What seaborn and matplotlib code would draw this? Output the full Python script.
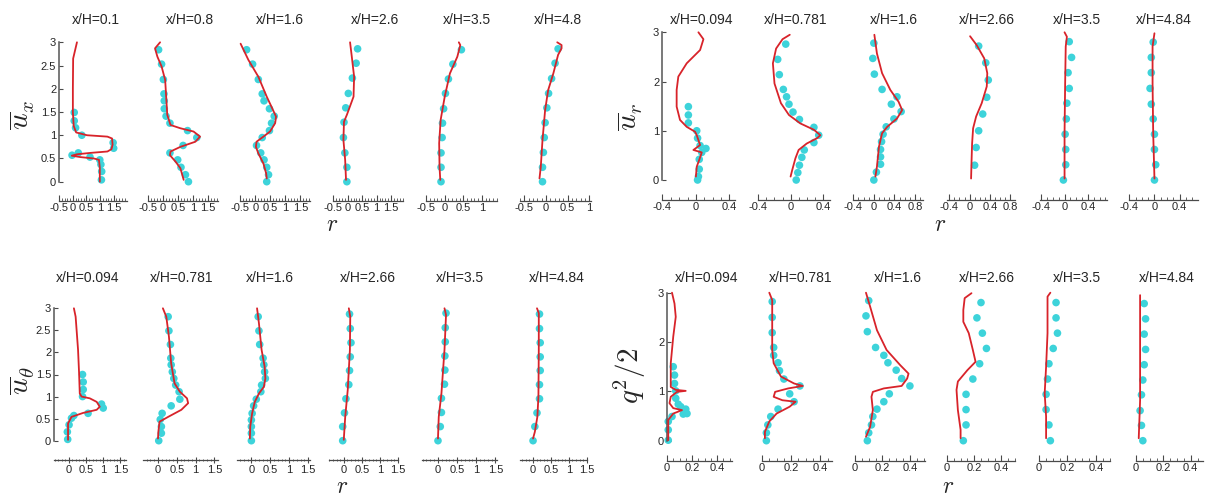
import matplotlib
matplotlib.use("Agg")
import matplotlib.pyplot as plt
import seaborn as sns
from matplotlib.ticker import MultipleLocator, FuncFormatter

# ---------------------------------------------------------------- data
UX_STATIONS = ["0.1", "0.8", "1.6", "2.6", "3.5", "4.8"]
UR_STATIONS = ["0.094", "0.781", "1.6", "2.66", "3.5", "4.84"]
UT_STATIONS = ["0.094", "0.781", "1.6", "2.66", "3.5", "4.84"]
Q_STATIONS = ["0.094", "0.781", "1.6", "2.66", "3.5", "4.84"]

# mean axial velocity: simulation line (y, value) and experiment points
ux_line_y = [
    [3.0, 2.85, 2.65, 2.0, 1.5, 1.2, 1.06, 1.0, 0.97, 0.93, 0.8, 0.7, 0.65, 0.62, 0.59, 0.56, 0.53, 0.5, 0.47, 0.3, 0.1, 0.0],
    [3.0, 2.87, 2.69, 2.48, 2.19, 1.76, 1.44, 1.22, 1.15, 1.08, 0.97, 0.86, 0.75, 0.65, 0.57, 0.43, 0.29, 0.04],
    [2.97, 2.62, 2.26, 1.83, 1.61, 1.4, 1.26, 1.08, 0.97, 0.86, 0.75, 0.61, 0.39, 0.18, 0.07],
    [3.0, 2.69, 2.26, 1.83, 1.44, 1.29, 0.9, 0.47, 0.04],
    [3.0, 2.94, 2.69, 2.33, 1.83, 1.33, 0.83, 0.32, 0.04],
    [3.0, 2.94, 2.87, 2.73, 2.33, 1.97, 1.54, 0.9, 0.32, 0.07],
]
ux_line_v = [
    [0.15, 0.09, 0.01, 0.0, 0.0, 0.03, 0.12, 0.52, 1.27, 1.44, 1.46, 1.42, 1.27, 0.65, 0.15, -0.04, 0.27, 0.77, 0.96, 0.99, 0.99, 0.99],
    [-0.10, -0.27, -0.19, -0.05, 0.07, 0.11, 0.14, 0.25, 0.58, 1.02, 1.24, 1.08, 0.58, 0.25, 0.23, 0.42, 0.58, 0.69],
    [-0.49, -0.23, 0.10, 0.38, 0.54, 0.69, 0.66, 0.49, 0.27, 0.04, 0.02, 0.10, 0.27, 0.36, 0.38],
    [0.08, 0.14, 0.22, 0.20, -0.03, -0.13, -0.15, -0.09, -0.06],
    [0.38, 0.42, 0.34, 0.14, 0.0, -0.11, -0.15, -0.14, -0.12],
    [0.26, 0.36, 0.36, 0.28, 0.17, 0.05, -0.02, -0.08, -0.12, -0.15],
]
ux_pts_y = [
    [1.49, 1.31, 1.16, 1.00, 0.84, 0.72, 0.62, 0.57, 0.53, 0.47, 0.37, 0.22, 0.04],
    [2.84, 2.53, 2.20, 1.89, 1.74, 1.57, 1.41, 1.26, 1.10, 0.95, 0.78, 0.62, 0.47, 0.31, 0.15, 0.00],
    [2.84, 2.53, 2.20, 1.89, 1.74, 1.57, 1.41, 1.26, 1.10, 0.95, 0.78, 0.62, 0.47, 0.31, 0.15, 0.00],
    [2.86, 2.55, 2.23, 1.90, 1.59, 1.28, 0.95, 0.62, 0.31, 0.00],
    [2.84, 2.53, 2.21, 1.90, 1.57, 1.26, 0.95, 0.62, 0.31, 0.00],
    [2.86, 2.55, 2.22, 1.90, 1.59, 1.27, 0.95, 0.63, 0.31, 0.00],
]
ux_pts_v = [
    [0.05, 0.05, 0.10, 0.33, 1.48, 1.50, 0.20, -0.03, 0.63, 0.99, 1.03, 1.06, 1.05],
    [-0.15, -0.05, 0.01, 0.03, 0.04, 0.04, 0.10, 0.23, 0.82, 1.13, 0.67, 0.23, 0.49, 0.60, 0.75, 0.85],
    [-0.29, -0.09, 0.10, 0.23, 0.29, 0.47, 0.63, 0.54, 0.47, 0.23, 0.04, 0.18, 0.29, 0.38, 0.44, 0.38],
    [0.34, 0.29, 0.16, 0.02, -0.07, -0.13, -0.15, -0.10, -0.03, -0.03],
    [0.45, 0.22, 0.10, 0.02, -0.03, -0.06, -0.07, -0.10, -0.10, -0.10],
    [0.28, 0.21, 0.13, 0.06, 0.02, -0.02, -0.04, -0.06, -0.08, -0.08],
]

# mean radial velocity
ur_line_y = [
    [3.0, 2.86, 2.64, 2.37, 2.10, 1.83, 1.49, 1.22, 1.08, 0.98, 0.91, 0.71, 0.61, 0.56, 0.41, 0.27, 0.07],
    [2.95, 2.86, 2.67, 2.37, 1.96, 1.56, 1.32, 1.15, 1.02, 0.91, 0.85, 0.74, 0.61, 0.44, 0.20, 0.07],
    [2.95, 2.57, 2.17, 1.83, 1.59, 1.42, 1.25, 1.08, 0.95, 0.68, 0.27, 0.07],
    [2.92, 2.74, 2.47, 2.17, 1.90, 1.56, 1.29, 1.05, 0.74, 0.41, 0.03],
    [3.0, 2.91, 2.71, 1.96, 0.95, 0.03],
    [2.98, 2.71, 1.96, 0.95, 0.03],
]
ur_line_v = [
    [0.03, 0.09, 0.05, -0.11, -0.21, -0.23, -0.23, -0.19, -0.11, -0.01, 0.01, 0.05, -0.03, 0.07, 0.04, 0.01, 0.0],
    [-0.01, -0.10, -0.18, -0.22, -0.20, -0.12, -0.02, 0.12, 0.29, 0.37, 0.33, 0.20, 0.10, 0.06, 0.02, 0.0],
    [0.01, 0.06, 0.16, 0.32, 0.48, 0.55, 0.45, 0.26, 0.16, 0.10, 0.06, 0.03],
    [0.01, 0.14, 0.29, 0.35, 0.34, 0.24, 0.13, 0.07, 0.05, 0.04, 0.03],
    [0.0, 0.04, 0.02, 0.01, 0.0, 0.0],
    [0.0, -0.03, -0.03, -0.02, 0.0],
]
ur_pts_y = [
    [1.49, 1.32, 1.16, 1.00, 0.85, 0.70, 0.64, 0.56, 0.42, 0.22, 0.07, 0.0],
    [2.76, 2.45, 2.14, 1.84, 1.69, 1.54, 1.38, 1.23, 1.07, 0.91, 0.76, 0.61, 0.46, 0.30, 0.15, 0.0],
    [2.78, 2.47, 2.15, 1.84, 1.69, 1.54, 1.39, 1.24, 1.08, 0.93, 0.78, 0.62, 0.47, 0.32, 0.16, 0.0],
    [2.72, 2.38, 2.03, 1.68, 1.34, 1.00, 0.66, 0.30],
    [2.81, 2.49, 2.18, 1.86, 1.56, 1.24, 0.93, 0.62, 0.31, 0.0],
    [2.80, 2.49, 2.18, 1.86, 1.54, 1.24, 0.93, 0.62, 0.31, 0.0],
]
ur_pts_v = [
    [-0.09, -0.09, -0.09, 0.01, 0.02, 0.05, 0.12, 0.07, 0.04, 0.04, 0.03, 0.02],
    [-0.06, -0.16, -0.14, -0.09, -0.05, -0.02, 0.03, 0.11, 0.29, 0.35, 0.29, 0.17, 0.14, 0.11, 0.09, 0.07],
    [0.0, -0.02, 0.01, 0.16, 0.45, 0.34, 0.53, 0.39, 0.24, 0.18, 0.15, 0.13, 0.13, 0.13, 0.05, 0.0],
    [0.18, 0.32, 0.37, 0.34, 0.26, 0.18, 0.13, 0.10],
    [0.08, 0.12, 0.06, 0.08, 0.04, 0.03, 0.01, 0.02, 0.02, -0.02],
    [-0.02, -0.05, -0.05, -0.07, -0.05, -0.02, 0.0, 0.0, 0.02, 0.0],
]

# mean swirl velocity
ut_line_y = [
    [3.0, 2.81, 2.06, 1.53, 1.07, 1.00, 0.96, 0.88, 0.77, 0.70, 0.63, 0.54, 0.39, 0.02],
    [3.0, 2.81, 2.36, 1.75, 1.30, 1.11, 0.96, 0.85, 0.70, 0.54, 0.43, 0.20, 0.05],
    [3.0, 2.66, 2.06, 1.68, 1.41, 1.22, 1.07, 0.88, 0.62, 0.32, 0.05],
    [3.0, 2.81, 2.06, 1.15, 0.54, 0.02],
    [3.0, 2.85, 2.06, 1.07, 0.54, 0.05],
    [3.0, 2.89, 2.06, 1.00, 0.54, 0.20, 0.05],
]
ut_line_v = [
    [0.15, 0.20, 0.27, 0.30, 0.32, 0.37, 0.61, 0.81, 0.90, 0.81, 0.42, 0.08, -0.02, -0.02],
    [0.13, 0.22, 0.29, 0.35, 0.44, 0.58, 0.77, 0.80, 0.62, 0.27, 0.04, 0.01, 0.0],
    [0.15, 0.20, 0.27, 0.35, 0.37, 0.33, 0.20, 0.09, 0.02, -0.03, -0.04],
    [0.14, 0.18, 0.17, 0.11, 0.04, 0.0],
    [0.17, 0.21, 0.17, 0.09, 0.02, 0.0],
    [0.11, 0.16, 0.16, 0.15, 0.12, 0.05, 0.0],
]
ut_pts_y = [
    [1.50, 1.33, 1.16, 1.00, 0.83, 0.74, 0.62, 0.57, 0.51, 0.36, 0.20, 0.03],
    [2.81, 2.49, 2.18, 1.87, 1.72, 1.56, 1.41, 1.26, 1.11, 0.94, 0.79, 0.62, 0.48, 0.32, 0.17, 0.0],
    [2.81, 2.49, 2.18, 1.87, 1.72, 1.56, 1.41, 1.26, 1.11, 0.94, 0.79, 0.62, 0.47, 0.32, 0.17, 0.0],
    [2.87, 2.54, 2.22, 1.90, 1.59, 1.27, 0.95, 0.63, 0.32, 0.0],
    [2.89, 2.56, 2.24, 1.92, 1.60, 1.28, 0.96, 0.64, 0.32, 0.0],
    [2.87, 2.54, 2.22, 1.90, 1.59, 1.27, 0.95, 0.63, 0.32, 0.0],
]
ut_pts_v = [
    [0.40, 0.42, 0.42, 0.40, 0.95, 1.00, 0.56, 0.15, 0.08, 0.01, -0.04, -0.03],
    [0.27, 0.29, 0.33, 0.34, 0.35, 0.38, 0.42, 0.47, 0.56, 0.58, 0.35, 0.11, 0.06, 0.09, 0.09, 0.02],
    [0.18, 0.20, 0.22, 0.31, 0.33, 0.35, 0.37, 0.27, 0.25, 0.13, 0.06, 0.02, 0.0, 0.0, 0.0, 0.0],
    [0.16, 0.18, 0.20, 0.18, 0.16, 0.14, 0.06, 0.02, -0.03, -0.03],
    [0.21, 0.19, 0.19, 0.18, 0.18, 0.17, 0.09, 0.09, 0.06, 0.0],
    [0.18, 0.18, 0.20, 0.20, 0.20, 0.18, 0.18, 0.11, 0.05, 0.0],
]

# turbulent kinetic energy
q_line_y = [
    [3.0, 2.78, 2.51, 2.11, 1.57, 1.09, 1.03, 1.01, 0.99, 0.89, 0.76, 0.66, 0.62, 0.55, 0.42, 0.22, 0.01],
    [3.0, 2.85, 1.84, 1.57, 1.30, 1.16, 1.11, 1.06, 0.99, 0.89, 0.82, 0.79, 0.69, 0.55, 0.39, 0.18, 0.05],
    [3.0, 2.72, 2.24, 1.84, 1.53, 1.36, 1.26, 1.11, 1.06, 0.99, 0.89, 0.62, 0.28, 0.08],
    [2.99, 2.89, 2.65, 2.41, 2.18, 1.84, 1.60, 1.43, 1.20, 1.03, 0.62, 0.22, 0.05],
    [3.0, 2.92, 2.18, 1.50, 0.96, 0.49, 0.05],
    [2.95, 1.84, 0.82, 0.05],
]
q_line_v = [
    [0.04, 0.06, 0.07, 0.05, 0.03, 0.03, 0.07, 0.15, 0.08, 0.03, 0.02, 0.05, 0.12, 0.05, 0.01, 0.01, 0.01],
    [0.05, 0.07, 0.07, 0.08, 0.13, 0.22, 0.28, 0.18, 0.09, 0.08, 0.14, 0.23, 0.19, 0.10, 0.05, 0.02, 0.02],
    [0.08, 0.11, 0.16, 0.23, 0.33, 0.39, 0.38, 0.34, 0.21, 0.13, 0.12, 0.13, 0.11, 0.08],
    [0.18, 0.13, 0.12, 0.12, 0.16, 0.19, 0.21, 0.15, 0.08, 0.07, 0.08, 0.10, 0.10],
    [0.08, 0.06, 0.06, 0.05, 0.04, 0.05, 0.05],
    [0.03, 0.03, 0.03, 0.02],
]
q_pts_y = [
    [1.50, 1.33, 1.16, 1.01, 0.86, 0.74, 0.69, 0.64, 0.55, 0.54, 0.49, 0.39, 0.22, 0.01],
    [2.82, 2.50, 2.19, 1.89, 1.73, 1.58, 1.42, 1.25, 1.11, 0.95, 0.79, 0.64, 0.49, 0.32, 0.16, 0.0],
    [2.84, 2.53, 2.21, 1.89, 1.73, 1.58, 1.43, 1.26, 1.11, 0.95, 0.79, 0.64, 0.49, 0.32, 0.16, 0.0],
    [2.80, 2.49, 2.18, 1.87, 1.56, 1.25, 0.94, 0.63, 0.32, 0.0],
    [2.80, 2.49, 2.18, 1.87, 1.56, 1.25, 0.94, 0.63, 0.32, 0.0],
    [2.78, 2.47, 2.16, 1.85, 1.54, 1.23, 0.93, 0.61, 0.31, 0.0],
]
q_pts_v = [
    [0.05, 0.06, 0.06, 0.07, 0.07, 0.09, 0.11, 0.15, 0.16, 0.13, 0.04, 0.01, 0.01, 0.01],
    [0.07, 0.07, 0.07, 0.08, 0.08, 0.11, 0.12, 0.15, 0.26, 0.19, 0.22, 0.11, 0.06, 0.04, 0.03, 0.03],
    [0.10, 0.08, 0.09, 0.15, 0.21, 0.24, 0.30, 0.34, 0.40, 0.25, 0.21, 0.16, 0.13, 0.12, 0.10, 0.09],
    [0.25, 0.22, 0.26, 0.29, 0.24, 0.19, 0.14, 0.14, 0.14, 0.12],
    [0.12, 0.12, 0.13, 0.10, 0.07, 0.06, 0.05, 0.05, 0.07, 0.08],
    [0.06, 0.07, 0.06, 0.07, 0.06, 0.05, 0.04, 0.03, 0.04, 0.05],
]

Y_LABELS = [r"$\overline{u}_x$", r"$\overline{u}_r$", r"$\overline{u}_\theta$", r"$q^2/2$"]
X_LABEL = r"$r$"

# ---------------------------------------------------------------- style / layout
sns.set_style("white")
plt.rcParams["font.family"] = ["Liberation Sans", "DejaVu Sans"]
plt.rcParams["mathtext.fontset"] = "cm"

RED = "#d8232a"
CYAN = "#3dd3da"
AXC = "#4a4a4a"
W, H = 1210, 499

fig = plt.figure(figsize=(12.1, 4.99), dpi=100)
fig.patch.set_facecolor("white")

groups = [
    dict(st=UX_STATIONS, ly=ux_line_y, lv=ux_line_v, py=ux_pts_y, pv=ux_pts_v,
         top=42.3, bot=181.7, xaxis=201,
         spans=[(59, 127), (148, 218), (240, 310), (333, 403), (426, 497), (520, 591)],
         xlims=[(-0.51, 1.99), (-0.505, 1.84), (-0.51, 1.82), (-0.51, 1.91), (-0.505, 1.41), (-0.6, 1.04)],
         major=0.5, minor=0.1, ystep=0.5, tdir="in",
         titles=[(96, 20), (190, 20), (280, 20), (375, 20), (467, 20), (558, 20)],
         ylab=(22, 115), xlab=(332, 225)),
    dict(st=UR_STATIONS, ly=ur_line_y, lv=ur_line_v, py=ur_pts_y, pv=ur_pts_v,
         top=32.3, bot=180.0, xaxis=200,
         spans=[(662, 735), (758, 830), (853, 923), (947, 1015), (1040, 1107), (1129, 1198)],
         xlims=[(-0.405, 0.467), (-0.405, 0.49), (-0.405, 0.955), (-0.446, 0.898), (-0.42, 0.726), (-0.405, 0.693)],
         major=0.4, minor=0.1, ystep=1.0, tdir="in",
         titles=[(702, 20), (796, 20), (894, 20), (987, 20), (1077, 20), (1164, 20)],
         ylab=(630, 117), xlab=(940, 225)),
    dict(st=UT_STATIONS, ly=ut_line_y, lv=ut_line_v, py=ut_pts_y, pv=ut_pts_v,
         top=308.3, bot=440.7, xaxis=460,
         spans=[(54, 126), (143, 218), (237, 310), (329, 398), (422, 497), (520, 587)],
         xlims=[(-0.427, 1.66), (-0.398, 1.593), (-0.38, 1.55), (-0.41, 1.505), (-0.417, 1.54), (-0.364, 1.505)],
         major=0.5, minor=0.1, ystep=0.5, tdir="inout",
         titles=[(88, 278), (182, 278), (270, 278), (368, 278), (460, 278), (557, 278)],
         ylab=(22, 380), xlab=(342, 487)),
    dict(st=Q_STATIONS, ly=q_line_y, lv=q_line_v, py=q_pts_y, pv=q_pts_v,
         top=292.7, bot=440.7, xaxis=461,
         spans=[(667, 732), (762, 832), (855, 925), (947, 1015), (1039, 1110), (1136, 1203)],
         xlims=[(0, 0.52), (0, 0.48), (0, 0.51), (0, 0.5), (0, 0.5), (0, 0.49)],
         major=0.2, minor=0.05, ystep=1.0, tdir="in",
         titles=[(707, 278), (801, 278), (898, 278), (987, 278), (1077, 278), (1167, 278)],
         ylab=(630, 376), xlab=(948, 487)),
]

fmt = FuncFormatter(lambda v, p: f"{round(v, 3) + 0:g}")

for gi, g in enumerate(groups):
    for k in range(6):
        x0, x1 = g["spans"][k]
        ax = fig.add_axes([x0 / W, 1 - g["bot"] / H, (x1 - x0) / W, (g["bot"] - g["top"]) / H])
        ax.set_facecolor("none")
        sns.scatterplot(x=g["pv"][k], y=g["py"][k], ax=ax, color=CYAN, s=30,
                        edgecolor="none", linewidth=0, clip_on=False, zorder=2)
        sns.lineplot(x=g["lv"][k], y=g["ly"][k], ax=ax, color=RED, lw=1.3,
                     sort=False, estimator=None, clip_on=False, zorder=3)
        ax.set_xlim(*g["xlims"][k])
        ax.set_ylim(0, 3)
        ax.set_xlabel("")
        ax.set_ylabel("")
        for s in ("top", "right"):
            ax.spines[s].set_visible(False)
        # detached x axis
        off = (g["xaxis"] - g["bot"]) * 72.0 / 100.0
        ax.spines["bottom"].set_position(("outward", off))
        ax.spines["bottom"].set_color(AXC)
        ax.spines["bottom"].set_linewidth(0.9)
        ax.xaxis.set_major_locator(MultipleLocator(g["major"]))
        ax.xaxis.set_minor_locator(MultipleLocator(g["minor"]))
        ax.xaxis.set_major_formatter(fmt)
        ax.tick_params(axis="x", which="major", direction=g["tdir"], length=4, width=0.8,
                       color=AXC, labelsize=8, pad=1.5, bottom=True)
        ax.tick_params(axis="x", which="minor", direction=g["tdir"], length=2, width=0.6,
                       color=AXC, bottom=True)
        if k == 0:
            ax.spines["left"].set_bounds(0, 3)
            ax.spines["left"].set_color("#555555")
            ax.spines["left"].set_linewidth(1.1)
            ax.yaxis.set_major_locator(MultipleLocator(g["ystep"]))
            ax.yaxis.set_major_formatter(fmt)
            ax.tick_params(axis="y", direction="in", length=3, width=0.8, color=AXC,
                           labelsize=8, pad=2, left=True)
        else:
            ax.spines["left"].set_visible(False)
            ax.set_yticks([])
        tx, ty = g["titles"][k]
        fig.text(tx / W, 1 - ty / H, f"x/H={g['st'][k]}", ha="center", va="center", fontsize=10)
    lx, ly = g["ylab"]
    fig.text(lx / W, 1 - ly / H, Y_LABELS[gi], rotation=90, ha="center", va="center", fontsize=21)
    rx, ry = g["xlab"]
    fig.text(rx / W, 1 - ry / H, X_LABEL, ha="center", va="center", fontsize=17)

fig.savefig("out.png", dpi=100, facecolor="white")
